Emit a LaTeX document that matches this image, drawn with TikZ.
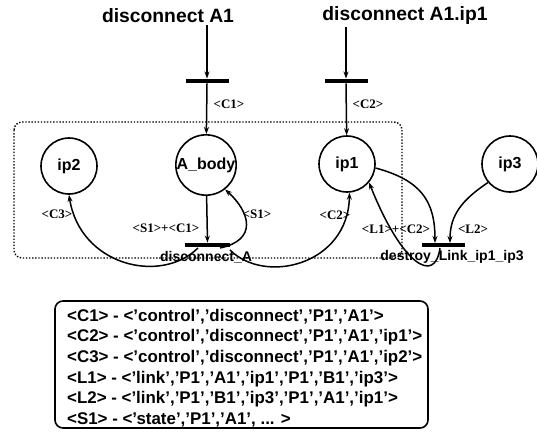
\documentclass[tikz,border=0pt]{standalone}
\usepackage{fontspec}
\setmainfont{Liberation Sans}
\newfontfamily\labelfont{Liberation Serif}
\usetikzlibrary{arrows.meta}

\tikzset{
  arr/.style={line width=1.5pt, -{Stealth[length=7pt,width=5pt]}},
  place/.style={circle, draw, line width=1.6pt, minimum size=56pt, inner sep=0pt,
    font=\fontsize{16}{18}\selectfont\bfseries},
  trans/.style={rectangle, fill=black, minimum width=43pt, minimum height=4.5pt, inner sep=0pt},
  title/.style={font=\fontsize{19.3}{22}\selectfont\bfseries, inner sep=2pt},
  tname/.style={font=\fontsize{14}{16}\selectfont\bfseries, inner sep=0pt},
  tag/.style={font=\labelfont\fontsize{13}{15}\selectfont\bfseries, inner sep=0pt},
  legend/.style={font=\fontsize{16.9}{19}\selectfont\bfseries, anchor=west, inner sep=0pt}
}

\begin{document}
\begin{tikzpicture}[x=1pt, y=-1pt]
  \useasboundingbox (0,0) rectangle (537,432);

  % component boundary
  \draw[line width=1.4pt, dash pattern=on 1.4pt off 1.7pt, rounded corners=8pt]
    (14,122) rectangle (402,258);

  % commands
  \node[title] (cmd1) at (168,15.5) {disconnect A1};
  \node[title] (cmd2) at (405,15.5) {disconnect A1.ip1};

  % transitions
  \node[trans] (t1) at (207,81) {};
  \node[trans] (t2) at (346,81) {};
  \node[trans, minimum width=45pt] (tdis) at (207.5,245) {};
  \node[trans] (tdes) at (443.5,245) {};

  % places
  \node[place] (ip2)   at (69,166)  {ip2};
  \node[place] (abody) at (206,165) {A\_body};
  \node[place] (ip1)   at (347,164) {ip1};
  \node[place] (ip3)   at (510,164) {ip3};

  % transition names
  \node[tname] (ndis) at (206,257) {disconnect\_A};
  \node[tname] (ndes) at (452,257) {destroy\_Link\_ip1\_ip3};

  % control inputs
  \draw[arr] (t1 |- cmd1.south) -- (t1.north);
  \draw[arr] (t1.south) -- (abody);
  \draw[arr] (t2 |- cmd2.south) -- (t2.north);
  \draw[arr] (t2.south) -- (ip1);

  % disconnect_A
  \draw[arr] (abody) -- (tdis.north);
  \draw[arr] (198,248) .. controls (160,285) and (80,265) .. (ip2.south);
  \draw[arr] (220,248) .. controls (258,240) and (250,212) .. (abody.-52);
  \draw[arr] (230,250) .. controls (265,285) and (348,265) .. (ip1.-85);

  % destroy_Link_ip1_ip3
  \draw[arr] (ip1.-8) .. controls (420,180) and (435,200) .. (435,243);
  \draw[arr] (ip3.-140) .. controls (462,200) and (450,215) .. (450,243);
  \draw[arr] (440,248) .. controls (435,285) and (402,265) .. (ip1.-40);

  % arc inscriptions
  \node[tag] (c1)  at (229,104) {<C1>};
  \node[tag] (c2t) at (368,104) {<C2>};
  \node[tag] (c3)  at (57,214)  {<C3>};
  \node[tag] (s1c1) at (166,228) {<S1>+<C1>};
  \node[tag] (s1)  at (257,214) {<S1>};
  \node[tag] (c2)  at (335,215) {<C2>};
  \node[tag] (l1c2) at (396,229) {<L1>+<C2>};
  \node[tag] (l2)  at (473,229) {<L2>};

  % token legend
  \draw[line width=1.6pt, rounded corners=8pt] (55,301) rectangle (428,428);
  \node[legend] (k1) at (67,317)   {<C1> - <'control','disconnect','P1','A1'>};
  \node[legend] (k2) at (67,337.6) {<C2> - <'control','disconnect','P1','A1','ip1'>};
  \node[legend] (k3) at (67,358.2) {<C3> - <'control','disconnect','P1','A1','ip2'>};
  \node[legend] (k4) at (67,378.8) {<L1> - <'link','P1','A1','ip1','P1','B1','ip3'>};
  \node[legend] (k5) at (67,399.4) {<L2> - <'link','P1','B1','ip3','P1','A1','ip1'>};
  \node[legend] (k6) at (67,420)   {<S1> - <'state','P1','A1', ... >};
\end{tikzpicture}
\end{document}
